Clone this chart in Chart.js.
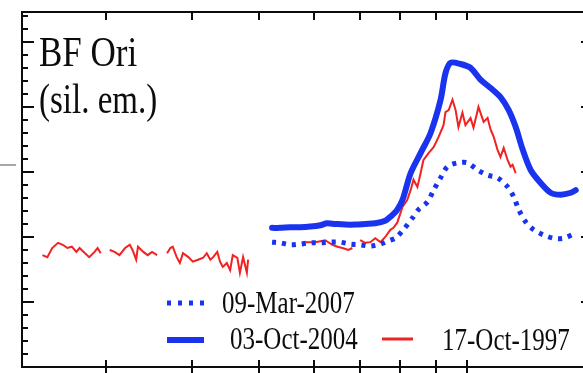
<!DOCTYPE html>
<html lang="en">
<head>
    <meta charset="UTF-8">
    <title>BF Ori</title>
    <script src="https://cdn.jsdelivr.net/npm/chart.js@4/dist/chart.umd.min.js"></script>
    <style>
        html, body {
            margin: 0;
            padding: 0;
            overflow: hidden;
            background: #fff;
        }
        #wrap {
            position: absolute;
            left: 0;
            top: 0;
        }
    </style>
</head>
<body>
    <div id="wrap">
        <canvas id="spec" width="595" height="373"></canvas>
    </div>

    <script>
        // axis ranges and ticks (wavelength in micron, log scale; flux arbitrary units)
        const X_MIN = 2.27, X_MAX = 15.2;
        const Y_MIN = 0, Y_MAX = 5.46;
        const xTicks = [3, 4, 5, 6, 7, 8, 9, 10];
        const yMajorTicks = [0, 1, 2, 3, 4, 5];

        const titleLines = ['BF Ori', '(sil. em.)'];
        const seriesLabels = ['09-Mar-2007', '03-Oct-2004', '17-Oct-1997'];

        // 09-Mar-2007 (dotted)
        const lambda2007 = [5.22, 5.36, 5.55, 5.73, 5.93, 6.13, 6.34, 6.55, 6.77, 7.00,
            7.24, 7.49, 7.74, 7.87, 8.08, 8.33, 8.50, 8.76, 8.94, 9.15,
            9.36, 9.68, 10.01, 10.35, 10.70, 11.06, 11.44, 11.67, 11.87, 12.15,
            12.48, 12.90, 13.34, 13.79, 14.35];
        const flux2007 = [1.92, 1.91, 1.88, 1.89, 1.91, 1.91, 1.92, 1.92, 1.89, 1.88,
            1.86, 1.89, 1.95, 1.98, 2.11, 2.29, 2.42, 2.54, 2.72, 2.91,
            3.08, 3.14, 3.14, 3.03, 2.95, 2.91, 2.77, 2.62, 2.42, 2.23,
            2.11, 2.03, 1.98, 1.98, 2.06];

        // 03-Oct-2004 (thick solid)
        const lambda2004 = [5.22, 5.36, 5.55, 5.73, 5.93, 6.13, 6.27, 6.44, 6.66, 6.89,
            7.12, 7.36, 7.61, 7.74, 7.92, 8.06, 8.28, 8.56, 8.85, 9.15,
            9.30, 9.46, 9.78, 10.11, 10.45, 10.81, 11.17, 11.48, 11.75, 12.03,
            12.35, 12.77, 13.20, 13.65, 14.12, 14.35];
        const flux2004 = [2.14, 2.14, 2.15, 2.15, 2.16, 2.18, 2.21, 2.20, 2.19, 2.19,
            2.20, 2.21, 2.25, 2.31, 2.42, 2.57, 2.98, 3.29, 3.60, 4.11,
            4.52, 4.68, 4.66, 4.60, 4.42, 4.29, 4.15, 3.95, 3.69, 3.34,
            3.03, 2.83, 2.68, 2.65, 2.68, 2.72];

        // 17-Oct-1997 (thin red, null = gap)
        const lambda1997 = [2.43, 2.47, 2.51, 2.56, 2.60, 2.64, 2.68, 2.72, 2.75, 2.80, 2.84, 2.89, 2.92, 2.95,
            3.00,
            3.04, 3.09, 3.14, 3.20, 3.25, 3.28, 3.32, 3.34, 3.40, 3.45, 3.50, 3.56,
            3.62,
            3.68, 3.72, 3.75, 3.80, 3.84, 3.88, 3.95, 4.01, 4.08, 4.15, 4.20, 4.25,
            4.29, 4.35, 4.39, 4.43, 4.49, 4.54, 4.58, 4.65, 4.69, 4.74, 4.80, 4.82,
            5.30,
            5.83, 6.03, 6.23, 6.38, 6.49, 6.60, 6.73, 6.82,
            6.90,
            7.00, 7.12, 7.24, 7.36, 7.49, 7.61, 7.74, 7.82, 7.92, 8.06,
            8.19, 8.28, 8.36, 8.47, 8.56, 8.64, 8.79, 8.94, 9.09, 9.24,
            9.30, 9.40, 9.52, 9.62, 9.71, 9.84, 9.94, 10.11, 10.21, 10.38,
            10.56, 10.70, 10.81, 10.92, 11.06, 11.17, 11.29, 11.44, 11.55, 11.63,
            11.75];
        const flux1997 = [1.72, 1.69, 1.83, 1.91, 1.88, 1.83, 1.85, 1.77, 1.83, 1.75, 1.69, 1.77, 1.83, 1.75,
            null,
            1.80, 1.77, 1.72, 1.83, 1.88, 1.80, 1.65, 1.85, 1.77, 1.72, 1.77, 1.72,
            null,
            1.75, 1.83, 1.85, 1.69, 1.60, 1.75, 1.69, 1.62, 1.65, 1.68, 1.75, 1.65,
            1.69, 1.77, 1.62, 1.54, 1.60, 1.49, 1.72, 1.68, 1.45, 1.69, 1.45, 1.65,
            null,
            1.92, 1.92, 1.95, 1.88, 1.85, 1.83, 1.80, 1.83,
            null,
            1.95, 1.91, 1.92, 1.98, 1.92, 2.00, 2.11, 2.14, 2.22, 2.46,
            2.57, 2.72, 2.88, 2.77, 2.98, 3.18, 3.29, 3.38, 3.54, 3.72,
            3.92, 3.95, 4.11, 3.95, 3.69, 3.91, 3.72, 3.83, 3.68, 4.00,
            3.77, 3.83, 3.65, 3.54, 3.34, 3.23, 3.37, 3.18, 3.08, 3.11,
            2.98];

        const BLUE = '#1a33ee';
        const RED = '#f02222';
        const INK = '#0c0c0c';

        function toPoints(xs, ys) {
            return xs.map((x, i) => ({x: x, y: ys[i]}));
        }

        function stretchedText(ctx, s, x, y, size, vScale) {
            ctx.save();
            ctx.font = size + 'px "Liberation Serif", "DejaVu Serif", serif';
            ctx.fillStyle = INK;
            ctx.textBaseline = 'alphabetic';
            ctx.translate(x, y);
            ctx.scale(1, vScale);
            ctx.fillText(s, 0, 0);
            ctx.restore();
        }

        // frame with inward ticks, drawn from the scales
        const framePlugin = {
            id: 'frame',
            afterDatasetsDraw(chart) {
                const ctx = chart.ctx;
                const a = chart.chartArea;
                const xs = chart.scales.x, ys = chart.scales.y;
                ctx.save();
                ctx.strokeStyle = INK;
                ctx.lineWidth = 2;
                ctx.beginPath();
                ctx.rect(a.left, a.top, a.right - a.left, a.bottom - a.top);
                ctx.stroke();

                ctx.lineWidth = 2;
                ctx.beginPath();
                xTicks.forEach(v => {
                    const px = Math.round(xs.getPixelForValue(v));
                    ctx.moveTo(px, a.bottom - 7);
                    ctx.lineTo(px, a.bottom + 7);
                    ctx.moveTo(px, a.top);
                    ctx.lineTo(px, a.top + 8);
                });
                yMajorTicks.forEach(v => {
                    const py = Math.round(ys.getPixelForValue(v));
                    ctx.moveTo(a.left, py);
                    ctx.lineTo(a.left + 12, py);
                    ctx.moveTo(a.right, py);
                    ctx.lineTo(a.right - 12, py);
                });
                ctx.stroke();

                // minor ticks, five per major step
                ctx.beginPath();
                for (let v = Y_MIN; v <= Y_MAX; v += 0.2) {
                    const py = Math.round(ys.getPixelForValue(v));
                    ctx.moveTo(a.left, py);
                    ctx.lineTo(a.left + 6, py);
                    ctx.moveTo(a.right, py);
                    ctx.lineTo(a.right - 6, py);
                }
                ctx.stroke();

                // stray rule from the neighbouring panel
                ctx.strokeStyle = '#8a8a8a';
                ctx.lineWidth = 1.5;
                ctx.beginPath();
                ctx.moveTo(0, 165);
                ctx.lineTo(16, 165);
                ctx.stroke();
                ctx.restore();
            },
            afterDraw(chart) {
                const ctx = chart.ctx;
                const ds = chart.data.datasets;

                stretchedText(ctx, titleLines[0], 39, 66, 35, 1.18);
                stretchedText(ctx, titleLines[1], 39, 113, 33, 1.25);

                ctx.save();
                // 09-Mar-2007 sample
                ctx.strokeStyle = ds[0].borderColor;
                ctx.lineWidth = ds[0].borderWidth;
                ctx.setLineDash([4, 7]);
                ctx.beginPath();
                ctx.moveTo(167, 303);
                ctx.lineTo(206, 303);
                ctx.stroke();
                ctx.setLineDash([]);

                // 03-Oct-2004 sample
                ctx.strokeStyle = ds[1].borderColor;
                ctx.lineWidth = 6;
                ctx.beginPath();
                ctx.moveTo(167, 340);
                ctx.lineTo(204, 340);
                ctx.stroke();

                // 17-Oct-1997 sample
                ctx.strokeStyle = ds[2].borderColor;
                ctx.lineWidth = 3;
                ctx.beginPath();
                ctx.moveTo(382, 339);
                ctx.lineTo(413, 339);
                ctx.stroke();
                ctx.restore();

                stretchedText(ctx, seriesLabels[0], 222, 313, 25, 1.25);
                stretchedText(ctx, seriesLabels[1], 230, 349, 25, 1.25);
                stretchedText(ctx, seriesLabels[2], 442, 350, 25, 1.25);
            }
        };

        const ctx = document.getElementById('spec').getContext('2d');
        const chart = new Chart(ctx, {
            type: 'scatter',
            data: {
                datasets: [
                    {
                        label: seriesLabels[0],
                        data: toPoints(lambda2007, flux2007),
                        showLine: true,
                        borderColor: BLUE,
                        borderWidth: 5,
                        borderDash: [4, 6],
                        borderCapStyle: 'butt',
                        pointRadius: 0,
                        tension: 0.3
                    },
                    {
                        label: seriesLabels[1],
                        data: toPoints(lambda2004, flux2004),
                        showLine: true,
                        borderColor: BLUE,
                        borderWidth: 6,
                        borderJoinStyle: 'round',
                        borderCapStyle: 'round',
                        pointRadius: 0,
                        tension: 0.3
                    },
                    {
                        label: seriesLabels[2],
                        data: toPoints(lambda1997, flux1997),
                        showLine: true,
                        spanGaps: false,
                        borderColor: RED,
                        borderWidth: 2,
                        pointRadius: 0,
                        tension: 0
                    }
                ]
            },
            options: {
                responsive: false,
                animation: false,
                events: [],
                layout: {
                    padding: {left: 22, top: 12, right: 2, bottom: 6}
                },
                plugins: {
                    legend: {display: false},
                    tooltip: {enabled: false}
                },
                scales: {
                    x: {
                        type: 'logarithmic',
                        min: X_MIN,
                        max: X_MAX,
                        display: false
                    },
                    y: {
                        type: 'linear',
                        min: Y_MIN,
                        max: Y_MAX,
                        display: false
                    }
                }
            },
            plugins: [framePlugin]
        });
    </script>
</body>
</html>
